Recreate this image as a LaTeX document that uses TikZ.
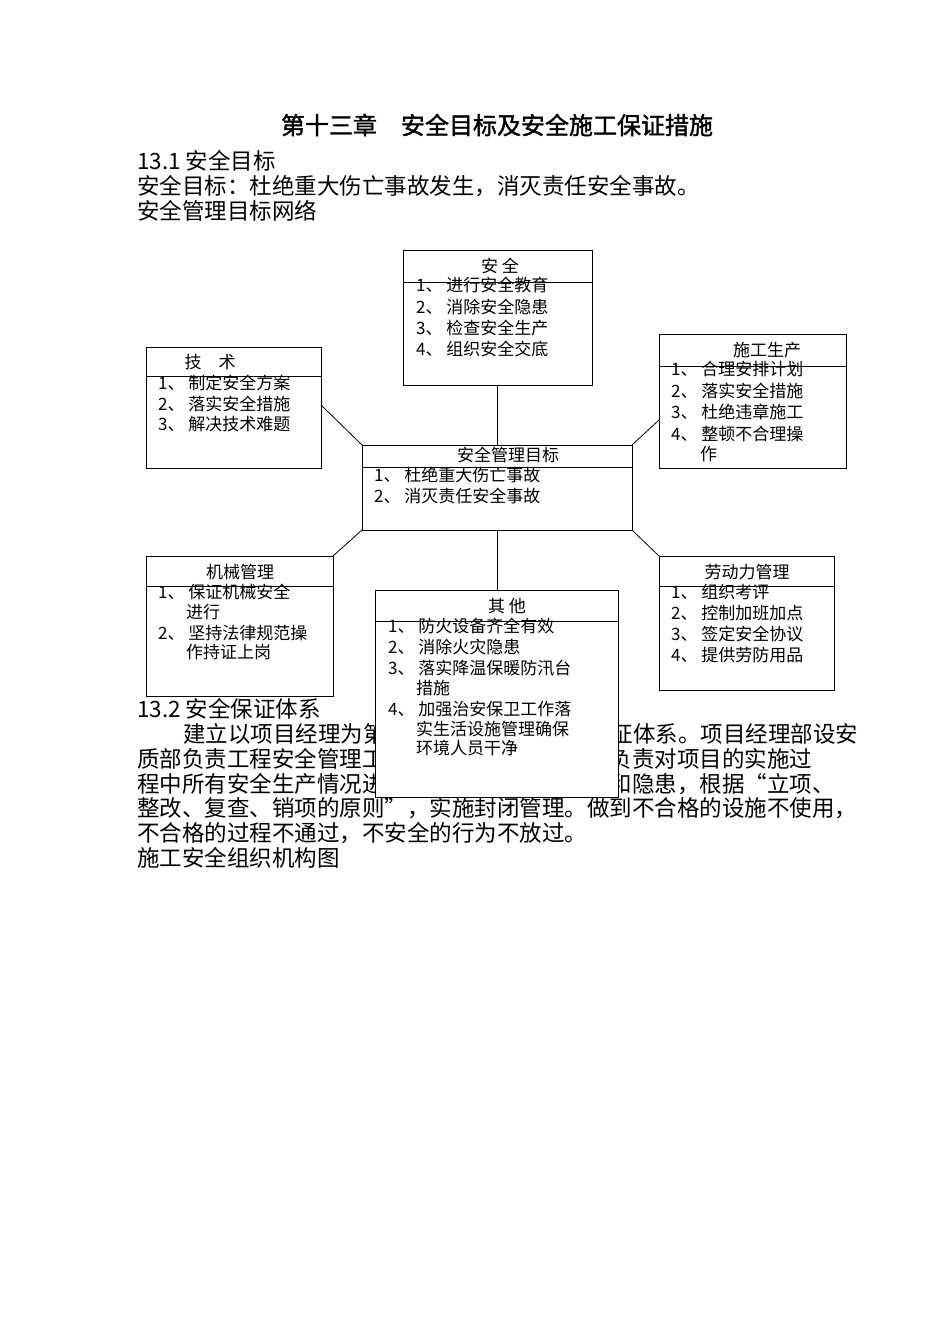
\documentclass[tikz,border=0pt]{standalone}
\usepackage{fontspec}
\setmainfont{Noto Sans CJK SC}
\newfontfamily\titlefont[FakeBold=1.5]{Noto Sans CJK SC}
\begin{document}
\begin{tikzpicture}[x=1pt,y=-1pt,
  body/.style={anchor=west,inner sep=0,font=\fontsize{22.5}{23}\selectfont},
  bt/.style={anchor=west,inner sep=0,font=\fontsize{17}{18}\selectfont},
  bh/.style={anchor=center,inner sep=0,font=\fontsize{17}{18}\selectfont},
  box/.style={draw,fill=white,line width=0.9pt},
  conn/.style={line width=0.8pt}]
\useasboundingbox (0,0) rectangle (950,1344);
\node[anchor=center,inner sep=0,font=\titlefont\fontsize{24}{25}\selectfont] (title) at (497,125) {第十三章\quad 安全目标及安全施工保证措施};
\node[body] (s1) at (137,161) {13.1 安全目标};
\node[body] (s2) at (137,186) {安全目标：杜绝重大伤亡事故发生，消灭责任安全事故。};
\node[body] (s3) at (137,211) {安全管理目标网络};
\node[body] (p0) at (137,709) {13.2 安全保证体系};
\node[body] (p1) at (183,734) {建立以项目经理为第一责任人的安全生产保证体系。项目经理部设安};
\node[body] (p2) at (137,759) {质部负责工程安全管理工作，按照安全管理要求负责对项目的实施过};
\node[body] (p3) at (137,784) {程中所有安全生产情况进行监督检查，对不合格和隐患，根据“立项、};
\node[body] (p4) at (137,808) {整改、复查、销项的原则”，实施封闭管理。做到不合格的设施不使用，};
\node[body] (p5) at (137,833) {不合格的过程不通过，不安全的行为不放过。};
\node[body] (p6) at (137,858) {施工安全组织机构图};
% boxes
\draw[box] (403,250) rectangle (592,385); \draw (403,282)--(592,282);
\node[bh] (a0) at (500,266) {安\ 全};
\node[bt] (a1) at (416,285) {1、 进行安全教育};
\node[bt] (a2) at (416,307) {2、 消除安全隐患};
\node[bt] (a3) at (416,328) {3、 检查安全生产};
\node[bt] (a4) at (416,349) {4、 组织安全交底};
\coordinate (abot) at (497,385);
\draw[box] (146,347) rectangle (321,468); \draw (146,376)--(321,376);
\node[bh] (b0) at (210,362) {技\quad 术};
\node[bt] (b1) at (158,383) {1、 制定安全方案};
\node[bt] (b2) at (158,404) {2、 落实安全措施};
\node[bt] (b3) at (158,424) {3、 解决技术难题};
\coordinate (bR) at (321,405);
\draw[box] (659,334) rectangle (846,468); \draw (659,366)--(846,366);
\node[bh] (c0) at (767,350) {施工生产};
\node[bt] (c1) at (671,369) {1、 合理安排计划};
\node[bt] (c2) at (671,391) {2、 落实安全措施};
\node[bt] (c3) at (671,412) {3、 杜绝违章施工};
\node[bt] (c4) at (671,434) {4、 整顿不合理操};
\node[bt] (c5) at (700,454) {作};
\coordinate (cL) at (659,420);
\draw[box] (362,445) rectangle (632,530); \draw (362,467)--(632,467);
\node[bh] (m0) at (508,455) {安全管理目标};
\node[bt] (m1) at (374,475) {1、 杜绝重大伤亡事故};
\node[bt] (m2) at (374,496) {2、 消灭责任安全事故};
\coordinate (mTL) at (362,445); \coordinate (mTR) at (632,445);
\coordinate (mBL) at (362,530); \coordinate (mBR) at (632,530);
\coordinate (mT) at (497,445); \coordinate (mB) at (497,530);
\draw[box] (146,556) rectangle (333,696); \draw (146,586)--(333,586);
\node[bh] (d0) at (240,572) {机械管理};
\node[bt] (d1) at (158,592) {1、 保证机械安全};
\node[bt] (d2) at (186,612) {进行};
\node[bt] (d3) at (158,633) {2、 坚持法律规范操};
\node[bt] (d4) at (186,652) {作持证上岗};
\coordinate (dTR) at (333,556);
\draw[box] (659,556) rectangle (834,690); \draw (659,586)--(834,586);
\node[bh] (e0) at (747,572) {劳动力管理};
\node[bt] (e1) at (671,592) {1、 组织考评};
\node[bt] (e2) at (671,613) {2、 控制加班加点};
\node[bt] (e3) at (671,634) {3、 签定安全协议};
\node[bt] (e4) at (671,655) {4、 提供劳防用品};
\coordinate (eTL) at (659,556);
\draw[box] (375,590) rectangle (618,797); \draw (375,621)--(618,621);
\node[bh] (f0) at (507,606) {其\ 他};
\node[bt] (f1) at (388,626) {1、 防火设备齐全有效};
\node[bt] (f2) at (388,647) {2、 消除火灾隐患};
\node[bt] (f3) at (388,668) {3、 落实降温保暖防汛台};
\node[bt] (f4) at (416,688) {措施};
\node[bt] (f5) at (388,709) {4、 加强治安保卫工作落};
\node[bt] (f6) at (416,729) {实生活设施管理确保};
\node[bt] (f7) at (416,748) {环境人员干净};
\coordinate (fT) at (497,590);
% connectors
\draw[conn] (abot)--(mT);
\draw[conn] (bR)--(mTL);
\draw[conn] (cL)--(mTR);
\draw[conn] (dTR)--(mBL);
\draw[conn] (eTL)--(mBR);
\draw[conn] (mB)--(fT);
\end{tikzpicture}
\end{document}
